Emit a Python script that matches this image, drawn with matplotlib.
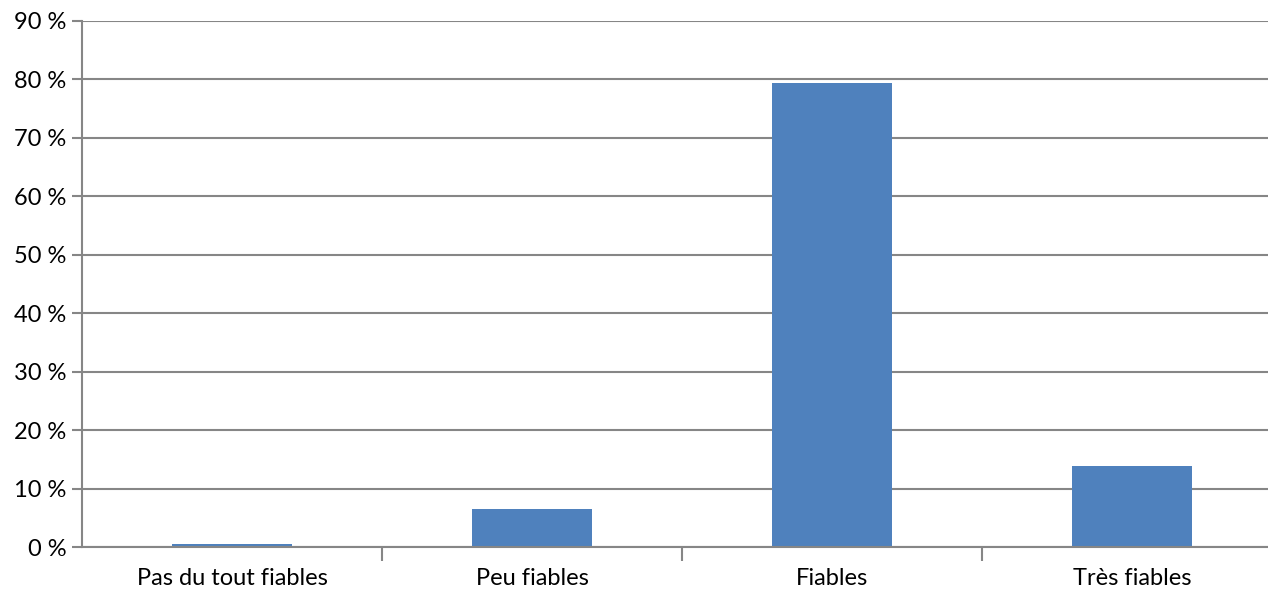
import matplotlib

matplotlib.use("Agg")

import matplotlib.pyplot as plt
from matplotlib.ticker import FuncFormatter, FixedLocator

categories = ["Pas du tout fiables", "Peu fiables", "Fiables", "Très fiables"]
values = [0.5, 6.5, 79.4, 13.9]
y_ticks = [0, 10, 20, 30, 40, 50, 60, 70, 80, 90]

_BAR = "#4f81bd"
_GRID = "#868686"

plt.rcParams["font.family"] = ["Lato", "DejaVu Sans"]

fig = plt.figure(figsize=(12.68, 5.89), dpi=100)
# la zone de tracé déborde à droite (image recadrée dans l'original)
ax = fig.add_axes([82 / 1268, 1 - 547.3 / 589, 1200 / 1268, (547.3 - 20.7) / 589])

x = list(range(len(categories)))
ax.bar(x, values, width=0.403, color=_BAR, zorder=3)

ax.set_xlim(-0.5, len(categories) - 0.5)
ax.set_ylim(0, 90)
ax.set_yticks(y_ticks)
ax.yaxis.set_major_formatter(FuncFormatter(lambda v, _: f"{v:.0f} %"))
ax.grid(axis="y", color=_GRID, linewidth=1.5, zorder=0)

# catégories : étiquettes au centre, graduations aux frontières
ax.set_xticks(x)
ax.set_xticklabels(categories)
ax.xaxis.set_minor_locator(FixedLocator([i + 0.5 for i in range(len(categories) - 1)]))
ax.tick_params(axis="x", which="major", length=0, pad=15, labelsize=17)
ax.tick_params(axis="x", which="minor", length=10, width=1.5, color=_GRID)
ax.tick_params(axis="y", length=7, width=1.5, color=_GRID, labelsize=17, pad=4)

for side in ["top", "right"]:
    ax.spines[side].set_visible(False)
for side in ["left", "bottom"]:
    ax.spines[side].set_color(_GRID)
    ax.spines[side].set_linewidth(1.5)
    ax.spines[side].set_zorder(4)

fig.savefig("out.png", dpi=100)
plt.close(fig)
